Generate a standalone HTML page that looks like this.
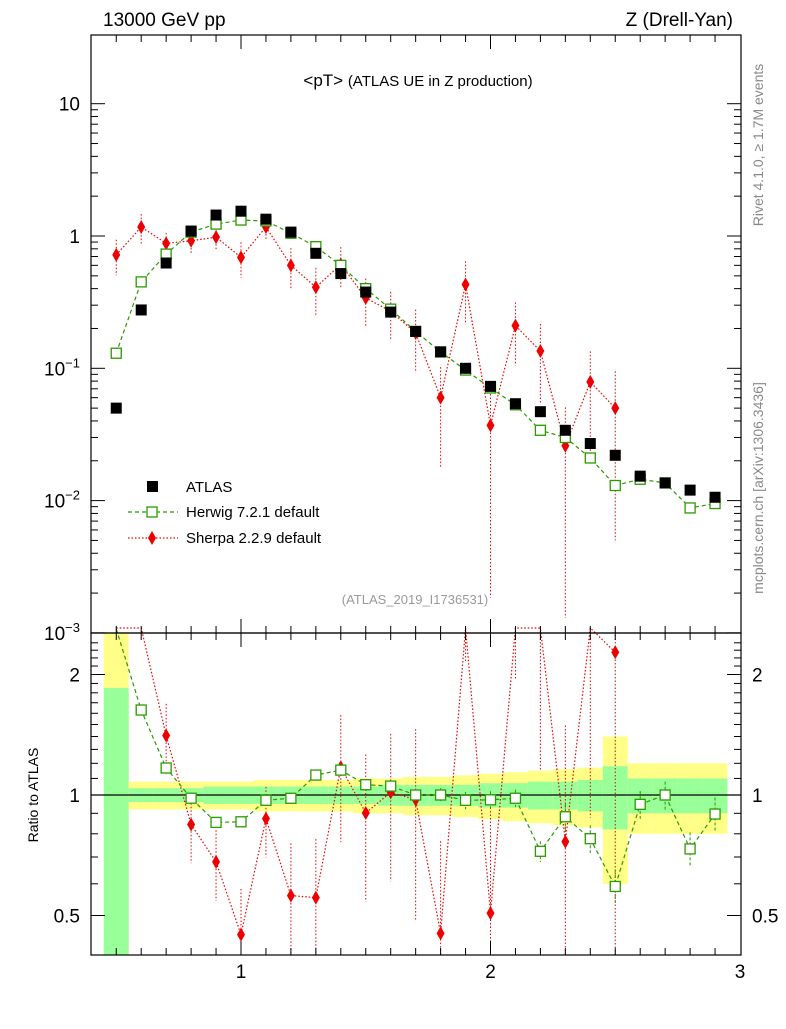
<!DOCTYPE html>
<html><head><meta charset="utf-8"><style>
body{margin:0;background:#fff;}
svg text{font-family:"Liberation Sans",sans-serif;}
</style></head><body>
<svg id="c" width="786" height="1024" xmlns="http://www.w3.org/2000/svg">
<g id="bands"></g>
<g id="marks"></g>
<rect x="91" y="35" width="650" height="598" fill="none" stroke="#000" stroke-width="1.2"/>
<rect x="91" y="633" width="650" height="322" fill="none" stroke="#000" stroke-width="1.2"/>
<g id="axes"></g>
<text x="103" y="26" font-size="19">13000 GeV pp</text>
<text x="733" y="26" font-size="19" text-anchor="end">Z (Drell-Yan)</text>
<text x="418" y="86" font-size="17" text-anchor="middle">&lt;pT&gt; <tspan font-size="15">(ATLAS UE in Z production)</tspan></text>
<text x="415" y="604" font-size="13" fill="#999" text-anchor="middle">(ATLAS_2019_I1736531)</text>
<text transform="translate(763,145) rotate(-90)" font-size="14" fill="#888" text-anchor="middle">Rivet 4.1.0, ≥ 1.7M events</text>
<text transform="translate(763,488) rotate(-90)" font-size="14" fill="#888" text-anchor="middle">mcplots.cern.ch [arXiv:1306.3436]</text>
<text transform="translate(38,795) rotate(-90)" font-size="14" text-anchor="middle">Ratio to ATLAS</text>
<g>
<rect x="147" y="481" width="11" height="11" fill="#000"/>
<text x="186" y="492" font-size="15">ATLAS</text>
<line x1="128" y1="512" x2="178" y2="512" stroke="#2a9a00" stroke-dasharray="4,3" stroke-width="1.2"/>
<rect x="147" y="507" width="10" height="10" fill="#fff" stroke="#2a9a00" stroke-width="1.3"/>
<text x="186" y="517" font-size="15">Herwig 7.2.1 default</text>
<line x1="128" y1="538" x2="178" y2="538" stroke="#e00" stroke-dasharray="1.5,2" stroke-width="1.2"/>
<polygon points="152,531 156,538 152,545 148,538" fill="#e00"/>
<text x="186" y="543" font-size="15">Sherpa 2.2.9 default</text>
</g>
</svg>
<script>
const xs=[0.5,0.6,0.7,0.8,0.9,1.0,1.1,1.2,1.3,1.4,1.5,1.6,1.7,1.8,1.9,2.0,2.1,2.2,2.3,2.4,2.5,2.6,2.7,2.8,2.9];
const atlas=[0.050,0.276,0.625,1.09,1.44,1.54,1.34,1.07,0.74,0.52,0.377,0.266,0.19,0.133,0.1,0.073,0.054,0.047,0.034,0.027,0.022,0.0153,0.0136,0.012,0.0106];
const herwig=[0.13,0.45,0.73,1.07,1.23,1.32,1.30,1.05,0.83,0.60,0.40,0.28,0.19,0.133,0.097,0.071,0.053,0.034,0.030,0.021,0.013,0.0145,0.0136,0.0088,0.0095];
const herwigErr=[0.01,0.01,0.01,0.01,0.01,0.01,0.01,0.01,0.01,0.01,0.02,0.02,0.03,0.04,0.05,0.05,0.05,0.06,0.08,0.08,0.1,0.08,0.08,0.1,0.1];
const sherpa=[0.72,1.17,0.88,0.92,0.98,0.69,1.17,0.60,0.41,0.61,0.34,0.27,0.185,0.06,0.43,0.037,0.21,0.135,0.026,0.079,0.05];
const sherpaErr=[0.3,0.25,0.2,0.2,0.2,0.3,0.2,0.35,0.4,0.35,0.4,0.4,0.5,0.7,0.5,0.95,0.5,0.6,0.95,0.7,0.9];
const bandYellow=[0.8,0.08,0.08,0.08,0.08,0.08,0.09,0.09,0.09,0.09,0.1,0.1,0.11,0.11,0.12,0.13,0.14,0.15,0.16,0.17,0.4,0.2,0.2,0.2,0.2];
const bandGreen=[0.85,0.04,0.04,0.04,0.05,0.05,0.05,0.05,0.05,0.05,0.05,0.06,0.06,0.06,0.06,0.07,0.07,0.08,0.08,0.09,0.18,0.1,0.1,0.1,0.1];
const yTicks=[0.001,0.01,0.1,1,10];
const yTickLabels=["10^-3","10^-2","10^-1","1","10"];
const rTicks=[0.5,1,2];
const xTicks=[1,2,3];

const NS="http://www.w3.org/2000/svg";
const X=v=>241+(v-1)*249.5;
const Y=v=>236-Math.log10(v)*132.3;
const R=v=>Math.min(960,Math.max(628,795-Math.log2(v)*120.5));
function el(t,a,p){const e=document.createElementNS(NS,t);for(const k in a)e.setAttribute(k,a[k]);(p||document.getElementById('marks')).appendChild(e);return e;}
const bands=document.getElementById('bands'),axes=document.getElementById('axes');
xs.forEach((x,i)=>{
 const x0=X(x-0.05),w=X(x+0.05)-x0;
 let yt=R(1+bandYellow[i]),yb=R(Math.max(0.3,1-bandYellow[i]));
 if(i==0){yt=633;yb=955;}
 const y=el('rect',{x:x0,y:yt,width:w,height:yb-yt,fill:'#ffff88'},bands);
 
 
 let gt=R(1+bandGreen[i]),gb=R(Math.max(0.3,1-bandGreen[i]));
 if(i==0){gt=R(1.85);gb=955;}
 const g=el('rect',{x:x0,y:gt,width:w,height:gb-gt,fill:'#99ff99'},bands);
 
 
});
el('line',{x1:91,y1:795,x2:741,y2:795,stroke:'#000','stroke-width':1.2},bands);
yTicks.forEach((t,i)=>{
 const y=Y(t);
 el('line',{x1:91,y1:y,x2:105,y2:y,stroke:'#000'},axes);
 el('line',{x1:741,y1:y,x2:727,y2:y,stroke:'#000'},axes);
 for(let m=2;m<10;m++){const ym=Y(t*m);if(ym>35&&i<4){el('line',{x1:91,y1:ym,x2:98,y2:ym,stroke:'#000'},axes);el('line',{x1:741,y1:ym,x2:734,y2:ym,stroke:'#000'},axes);}}
 const lab=yTickLabels[i];
 const tx=el('text',{x:80,y:y+7,'font-size':19,'text-anchor':'end'},axes);
 
 
 if(lab.startsWith('10^')){tx.textContent='10';const s=el('tspan',{dy:-8,'font-size':13},tx);s.textContent=lab.slice(3).replace('-','−');}
 else tx.textContent=lab;
});
rTicks.forEach(t=>{
 const y=R(t);
 el('line',{x1:91,y1:y,x2:105,y2:y,stroke:'#000'},axes);
 el('line',{x1:741,y1:y,x2:727,y2:y,stroke:'#000'},axes);
 const a=el('text',{x:80,y:y+7,'font-size':19,'text-anchor':'end'},axes);a.textContent=String(t);
 
 
 const b=el('text',{x:752,y:y+7,'font-size':19},axes);b.textContent=String(t);
 
 
});
for(let v=0.5;v<=2.5;v+=0.1){const r=Math.round(v*10)/10;if([0.5,1,2].includes(r))continue;const y=R(r);if(y>633&&y<955){el('line',{x1:91,y1:y,x2:98,y2:y,stroke:'#000'},axes);el('line',{x1:741,y1:y,x2:734,y2:y,stroke:'#000'},axes);}}
for(let v=0.5;v<3;v+=0.1){const x=X(v);const maj=Math.abs(v-Math.round(v))<1e-6;const L=maj?14:7;
 [[35,1],[633,-1],[633,1],[955,-1]].forEach(([y0,d])=>el('line',{x1:x,y1:y0,x2:x,y2:y0+d*L,stroke:'#000'},axes));}
xTicks.forEach(t=>{const a=el('text',{x:X(t),y:978,'font-size':19,'text-anchor':'middle'},axes);a.textContent=String(t);
 
 });
const clampM=y=>Math.min(633,Math.max(35,y));
let pts=[];
sherpa.forEach((v,i)=>{const x=X(xs[i]),e=sherpaErr[i];
 el('line',{x1:x,y1:clampM(Y(v*(1+e))),x2:x,y2:clampM(Y(Math.max(1e-4,v*(1-e)))),stroke:'#e00','stroke-dasharray':'1.5,2'});
 pts.push(x+','+Y(v));});
el('polyline',{points:pts.join(' '),fill:'none',stroke:'#e00','stroke-dasharray':'1.5,2','stroke-width':1.2});
sherpa.forEach((v,i)=>{const x=X(xs[i]),y=Y(v);const p=el('polygon',{points:`${x},${y-7} ${x+4},${y} ${x},${y+7} ${x-4},${y}`,fill:'#e00'});
 
 });
pts=[];
herwig.forEach((v,i)=>pts.push(X(xs[i])+','+Y(v)));
el('polyline',{points:pts.join(' '),fill:'none',stroke:'#2a9a00','stroke-dasharray':'4,3','stroke-width':1.2});
herwig.forEach((v,i)=>{const r=el('rect',{x:X(xs[i])-5,y:Y(v)-5,width:10,height:10,fill:'#fff',stroke:'#2a9a00','stroke-width':1.3});
 
 });
atlas.forEach((v,i)=>{const r=el('rect',{x:X(xs[i])-5.5,y:Y(v)-5.5,width:11,height:11,fill:'#000'});
 
 });
pts=[];
sherpa.forEach((v,i)=>{const x=X(xs[i]),r=v/atlas[i],e=sherpaErr[i];
 el('line',{x1:x,y1:R(r*(1+e)),x2:x,y2:R(Math.max(0.01,r*(1-e))),stroke:'#e00','stroke-dasharray':'1.5,2'});
 pts.push(x+','+R(r));});
el('polyline',{points:pts.join(' '),fill:'none',stroke:'#e00','stroke-dasharray':'1.5,2','stroke-width':1.2});
sherpa.forEach((v,i)=>{const r=v/atlas[i];if(r>2.55||r<0.39)return;const x=X(xs[i]),y=R(r);const p=el('polygon',{points:`${x},${y-7} ${x+4},${y} ${x},${y+7} ${x-4},${y}`,fill:'#e00'});
 
 });
pts=[];
herwig.forEach((v,i)=>{const x=X(xs[i]),r=v/atlas[i],e=herwigErr[i];
 if(e>0.015)el('line',{x1:x,y1:R(r*(1+e)),x2:x,y2:R(r*(1-e)),stroke:'#2a9a00','stroke-dasharray':'3,2'});
 pts.push(x+','+R(r));});
el('polyline',{points:pts.join(' '),fill:'none',stroke:'#2a9a00','stroke-dasharray':'4,3','stroke-width':1.2});
herwig.forEach((v,i)=>{const r=v/atlas[i];if(r>2.55)return;const q=el('rect',{x:X(xs[i])-5,y:R(r)-5,width:10,height:10,fill:'#fff',stroke:'#2a9a00','stroke-width':1.3});
 
 });
el('rect',{x:91,y:955.6,width:650,height:14,fill:'#fff'});
el('rect',{x:0,y:620,width:90.4,height:12.4,fill:'#fff'});
</script>
</body></html>
